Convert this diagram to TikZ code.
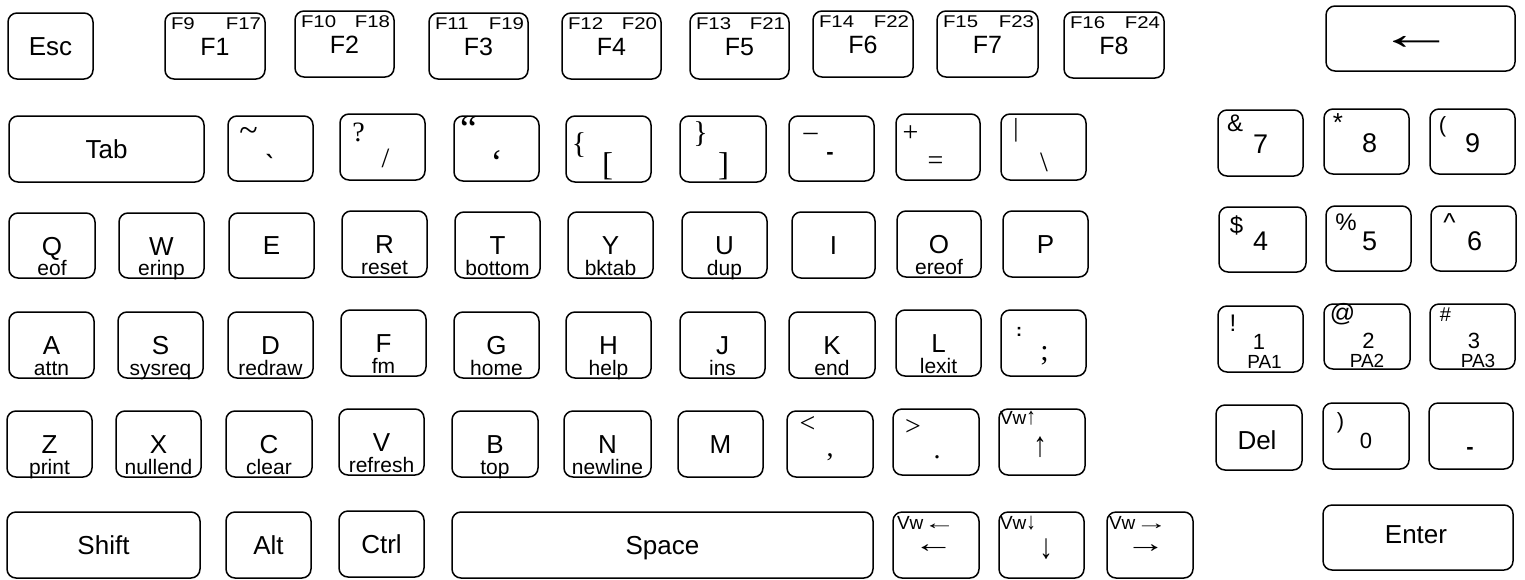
\documentclass[tikz,border=0pt]{standalone}
\usepackage{graphicx}
\usepackage{fontspec}
\setmainfont{Liberation Sans}
\newfontfamily\symserif{Liberation Serif}
\newfontfamily\symdejavu{DejaVu Serif}
\newfontfamily\widesans[FakeStretch=1.2]{Liberation Sans}
\newcommand\kfs[1]{\fontsize{#1}{#1}\selectfont}
\tikzset{
  keybox/.style={draw, line width=1.5pt, rounded corners=9pt, inner sep=0pt, outer sep=0pt},
  klabel/.style={inner sep=0pt, outer sep=0pt, anchor=base, font=\kfs{26}},
  kflabel/.style={inner sep=0pt, outer sep=0pt, anchor=base, font=\kfs{25}},
  ksub/.style={inner sep=0pt, outer sep=0pt, anchor=base, font=\kfs{21}},
  kfn/.style={inner sep=0pt, outer sep=0pt, font=\widesans\kfs{17}},
  kser/.style={inner sep=0pt, outer sep=0pt, anchor=center, font=\symserif\kfs{28}},
  ksym/.style={inner sep=0pt, outer sep=0pt, anchor=center, font=\kfs{24}},
  kdig/.style={inner sep=0pt, outer sep=0pt, anchor=base, font=\kfs{27}},
  kdigs/.style={inner sep=0pt, outer sep=0pt, anchor=base, font=\kfs{22}},
  kpa/.style={inner sep=0pt, outer sep=0pt, anchor=base, font=\kfs{19}},
  kvw/.style={inner sep=0pt, outer sep=0pt, anchor=north west, font=\kfs{19}},
  karr/.style={inner sep=0pt, outer sep=0pt, anchor=center, font=\kfs{27}},
}
\newcommand\hv[1]{\scalebox{1.7}[1]{#1}}
\newcommand\vv[1]{\scalebox{1}[1.25]{#1}}
\newcommand\kb[5]{\node[keybox, minimum width={#4-#2}, minimum height={#5-#3}] (#1) at ({(#2+#4)/2},{(#3+#5)/2}) {};}
\newcommand\mk[6]{\kb{#1}{#2}{#3}{#4}{#5}\node[klabel] (#1-m) at ({(#2+#4)/2},{(#3+#5)/2+9}) {#6};}
\newcommand\lk[7]{\kb{#1}{#2}{#3}{#4}{#5}\node[klabel] (#1-m) at ({(#2+#4)/2},{#3+42}) {#6};\node[ksub] (#1-s) at ({(#2+#4)/2},{#5-3}) {#7};}
\newcommand\fk[8]{\kb{#1}{#2}{#3}{#4}{#5}\node[kflabel] (#1-m) at ({(#2+#4)/2},{#3+42}) {#6};\node[kfn, anchor=base west] (#1-a) at ({#2+6},{#3+16}) {#7};\node[kfn, anchor=base east] (#1-b) at ({#4-4},{#3+16}) {#8};}
\begin{document}
\begin{tikzpicture}[x=1pt,y=-1pt]
\useasboundingbox (0,0) rectangle (1525,579);
% row 1
\mk{esc}{8}{13}{93}{79}{Esc}
\fk{f1}{165}{13}{265}{79}{F1}{F9}{F17}
\fk{f2}{295}{11}{394}{77}{F2}{F10}{F18}
\fk{f3}{429}{13}{528}{79}{F3}{F11}{F19}
\fk{f4}{562}{13}{661}{79}{F4}{F12}{F20}
\fk{f5}{690}{13}{789}{79}{F5}{F13}{F21}
\fk{f6}{813}{11}{913}{77}{F6}{F14}{F22}
\fk{f7}{937}{11}{1038}{77}{F7}{F15}{F23}
\fk{f8}{1064}{12}{1164}{78}{F8}{F16}{F24}
\kb{bksp}{1326}{6}{1515}{71}
\node[karr, font=\kfs{46}] (bksp-a) at (1417,42.5) {\scalebox{1.7}[1]{←}};
% row 2
\mk{tab}{9}{116}{204}{182}{Tab}
\kb{tilde}{228}{116}{313}{181}
\node[kser, font=\symserif\kfs{34}] (tilde-a) at (248.5,134) {\textasciitilde};
\node[kser, font=\symdejavu\bfseries\kfs{24}] (tilde-b) at (270.5,163.5) {ˋ};
\kb{quest}{340}{114}{425}{180}
\node[kser] (quest-a) at (358.5,132.5) {?};
\node[kser] (quest-b) at (385.5,158) {/};
\kb{quote}{454}{116}{539}{181}
\node[kser, font=\symserif\kfs{38}] (quote-a) at (468.5,129) {“};
\node[kser, font=\symserif\kfs{36}] (quote-b) at (496.5,163) {‘};
\kb{lbrace}{566}{116}{651}{182}
\node[kser, font=\symserif\kfs{30}] (lbrace-a) at (579,145) {\{};
\node[kser, font=\symserif\kfs{33}] (lbrace-b) at (607.5,166.5) {[};
\kb{rbrace}{680}{116}{766}{182}
\node[kser, font=\symserif\kfs{30}] (rbrace-a) at (700.5,134.5) {\}};
\node[kser, font=\symserif\kfs{33}] (rbrace-b) at (723.5,166.5) {]};
\kb{minus}{789}{116}{874}{181}
\node[kser] (minus-a) at (810.5,137) {–};
\node[ksym, font=\bfseries\kfs{22}] (minus-b) at (830,156) {-};
\kb{plus}{896}{114}{980}{180}
\node[kser] (plus-a) at (910.5,134) {+};
\node[kser] (plus-b) at (935.5,163) {=};
\kb{bslash}{1001}{114}{1086}{180}
\node[kser, font=\symserif\kfs{26}] (bslash-a) at (1016,130.5) {|};
\node[kser] (bslash-b) at (1044,162.5) {\textbackslash};
\kb{k7}{1218}{110}{1303}{176}
\node[ksym] (k7-a) at (1235,123) {\&};
\node[kdig] (k7-b) at (1260.5,153) {7};
\kb{k8}{1324}{109}{1409}{174}
\node[ksym, font=\kfs{26}] (k8-a) at (1338,123) {*};
\node[kdig] (k8-b) at (1369.5,152) {8};
\kb{k9}{1430}{109}{1515}{174}
\node[ksym, font=\kfs{22}] (k9-a) at (1442.5,127) {(};
\node[kdig] (k9-b) at (1472.5,152) {9};
% row 3
\lk{q}{9}{213}{95}{278}{Q}{eof}
\lk{w}{119}{213}{204}{278}{W}{erinp}
\mk{e}{229}{213}{314}{278}{E}
\lk{r}{342}{211}{427}{277}{R}{reset}
\lk{t}{455}{212}{540}{278}{T}{bottom}
\lk{y}{568}{212}{653}{278}{Y}{bktab}
\lk{u}{682}{212}{767}{278}{U}{dup}
\mk{i}{792}{212}{875}{278}{I}
\lk{o}{897}{211}{981}{277}{O}{ereof}
\mk{p}{1003}{211}{1088}{277}{P}
\kb{k4}{1219}{207}{1306}{272}
\node[ksym] (k4-a) at (1236.5,225) {\$};
\node[kdig] (k4-b) at (1260.5,250) {4};
\kb{k5}{1326}{206}{1411}{271}
\node[ksym] (k5-a) at (1346,222.5) {\%};
\node[kdig] (k5-b) at (1369.5,250) {5};
\kb{k6}{1431}{206}{1516}{271}
\node[ksym, font=\kfs{26}] (k6-a) at (1449.5,222.5) {\textasciicircum};
\node[kdig] (k6-b) at (1474.5,250) {6};
% row 4
\lk{a}{9}{312}{94}{378}{A}{attn}
\lk{s}{118}{312}{203}{378}{S}{sysreq}
\lk{d}{228}{312}{313}{378}{D}{redraw}
\lk{f}{341}{310}{426}{376}{F}{fm}
\lk{g}{454}{312}{539}{378}{G}{home}
\lk{h}{566}{312}{651}{378}{H}{help}
\lk{j}{680}{312}{765}{378}{J}{ins}
\lk{k}{789}{312}{875}{378}{K}{end}
\lk{l}{896}{310}{981}{376}{L}{lexit}
\kb{semi}{1001}{310}{1086}{376}
\node[ksym, font=\bfseries\kfs{18}] (semi-a) at (1019,331.5) {:};
\node[kser, font=\symserif\kfs{30}] (semi-b) at (1044.5,356) {;};
\kb{k1}{1218}{306}{1303}{372}
\node[ksym] (k1-a) at (1233,323) {!};
\node[kdigs] (k1-b) at (1259,349) {1};
\node[kpa] (k1-c) at (1264.5,368) {PA1};
\kb{k2}{1324}{304}{1410}{369}
\node[ksym, font=\kfs{25}] (k2-a) at (1342.5,314) {@};
\node[kdigs] (k2-b) at (1368.5,348) {2};
\node[kpa] (k2-c) at (1367,367) {PA2};
\kb{k3}{1430}{304}{1515}{369}
\node[ksym, font=\kfs{20}] (k3-a) at (1445.5,315) {\#};
\node[kdigs] (k3-b) at (1474,348) {3};
\node[kpa] (k3-c) at (1478,367) {PA3};
% row 5
\lk{z}{7}{411}{92}{477}{Z}{print}
\lk{x}{116}{411}{201}{477}{X}{nullend}
\lk{c}{226}{411}{312}{477}{C}{clear}
\lk{v}{339}{409}{424}{475}{V}{refresh}
\lk{b}{452}{411}{538}{477}{B}{top}
\lk{n}{564}{411}{651}{477}{N}{newline}
\mk{m}{678}{411}{763}{477}{M}
\kb{lt}{787}{411}{873}{477}
\node[kser] (lt-a) at (807.5,424) {<};
\node[kser] (lt-b) at (830,457) {,};
\kb{gt}{893}{409}{979}{475}
\node[kser] (gt-a) at (913,427.5) {>};
\node[kser] (gt-b) at (937,457.5) {.};
\kb{up}{999}{409}{1085}{475}
\node[kvw] (up-a) at (1000,411) {Vw\vv{↑}};
\node[karr] (up-b) at (1040,447) {\scalebox{1}[1.3]{↑}};
\kb{del}{1216}{405}{1302}{470}
\node[klabel] (del-m) at (1257,449) {Del};
\kb{k0}{1323}{403}{1409}{469}
\node[ksym, font=\kfs{22}] (k0-a) at (1340.5,422.5) {)};
\node[kdigs] (k0-b) at (1366,448) {0};
\kb{dot}{1429}{403}{1513}{469}
\node[ksym, font=\bfseries\kfs{22}] (dot-a) at (1470,451) {-};
% row 6
\mk{shift}{7}{512}{200}{578}{Shift}
\mk{alt}{226}{512}{311}{578}{Alt}
\mk{ctrl}{339}{511}{424}{577}{Ctrl}
\mk{space}{452}{512}{873}{578}{Space}
\kb{left}{893}{512}{979}{578}
\node[kvw] (left-a) at (897,516) {Vw\hv{←}};
\node[karr] (left-b) at (933.5,549) {\scalebox{1.5}[1]{←}};
\kb{down}{999}{512}{1084}{578}
\node[kvw] (down-a) at (1000,516) {Vw\vv{↓}};
\node[karr] (down-b) at (1046,549) {\scalebox{1}[1.3]{↓}};
\kb{right}{1107}{512}{1193}{578}
\node[kvw] (right-a) at (1109,516) {Vw\hv{→}};
\node[karr] (right-b) at (1145.5,549) {\scalebox{1.5}[1]{→}};
\kb{enter}{1323}{505}{1513}{570}
\node[klabel] (enter-m) at (1416,543) {Enter};
\end{tikzpicture}
\end{document}
